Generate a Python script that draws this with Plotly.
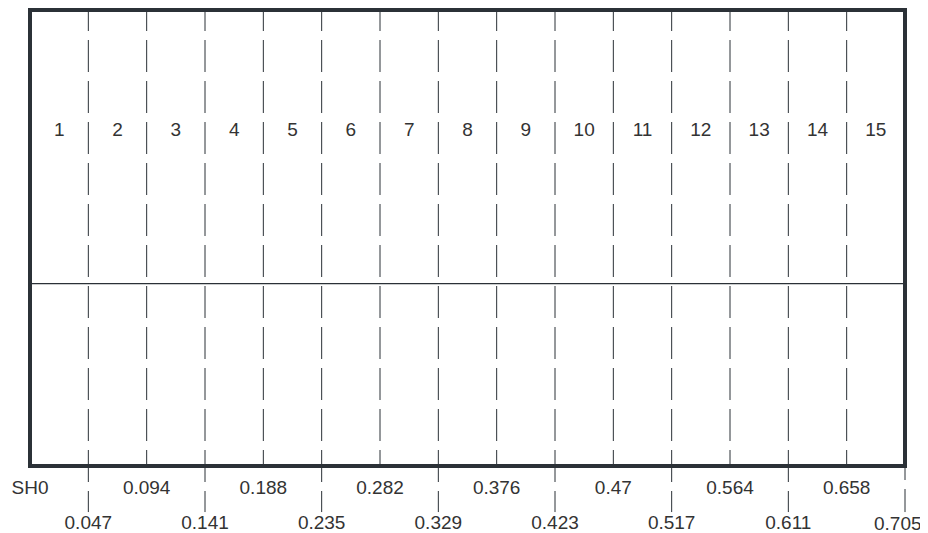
import plotly.graph_objects as go

# ---- data ----
boundaries = [0.0, 0.047, 0.094, 0.141, 0.188, 0.235, 0.282, 0.329, 0.376,
              0.423, 0.47, 0.517, 0.564, 0.611, 0.658, 0.705]
tick_labels = ["SH0", "0.047", "0.094", "0.141", "0.188", "0.235", "0.282", "0.329",
               "0.376", "0.423", "0.47", "0.517", "0.564", "0.611", "0.658", "0.705"]
column_labels = [str(i) for i in range(1, 16)]
divider_level = 0.4

# ---- style ----
# page has an 8px body margin, so the figure is placed at (8, 8)
OFF = 8
W, H = 920, 525
LINE_COLOR = "#2b3137"
TEXT_COLOR = "#333333"
FONT = "Liberation Sans, Arial, sans-serif"
FS = 19

# frame in page pixels
LEFT, RIGHT, TOP, BOTTOM = 30, 905, 10, 466

dash = "21px,9px," + ",".join(["32px,9px"] * 14)

fig = go.Figure()

for i, b in enumerate(boundaries):
    if i == 0:
        continue
    odd = (i % 2 == 1)
    y_bottom = -0.101 if odd else 0.0
    if i == len(boundaries) - 1:
        fig.add_trace(go.Scatter(x=[b, b], y=[0.0, y_bottom], mode="lines",
                                 line=dict(color=LINE_COLOR, width=1, dash="14px,9px,32px,9px"),
                                 hoverinfo="skip", showlegend=False, cliponaxis=False))
        continue
    fig.add_trace(go.Scatter(x=[b, b], y=[1.0, y_bottom], mode="lines",
                             line=dict(color=LINE_COLOR, width=1, dash=dash),
                             hoverinfo="skip", showlegend=False, cliponaxis=False))

centers = [(boundaries[i] + boundaries[i + 1]) / 2 for i in range(len(column_labels))]
fig.add_trace(go.Scatter(x=centers, y=[0.735] * len(centers), mode="text",
                         text=column_labels,
                         textfont=dict(family=FONT, size=FS, color=TEXT_COLOR),
                         hoverinfo="skip", showlegend=False, cliponaxis=False))

ROW1, ROW2 = -0.052, -0.127
ys = [ROW1 if i % 2 == 0 else ROW2 for i in range(len(boundaries))]
fig.add_trace(go.Scatter(x=boundaries[:-1], y=ys[:-1], mode="text", text=tick_labels[:-1],
                         textfont=dict(family=FONT, size=FS, color=TEXT_COLOR),
                         hoverinfo="skip", showlegend=False, cliponaxis=False))
fig.add_annotation(x=boundaries[-1], y=ys[-1], xref="x", yref="y", text=tick_labels[-1],
                   showarrow=False, xanchor="right", yanchor="middle", xshift=18,
                   borderpad=0, font=dict(family=FONT, size=FS, color=TEXT_COLOR))

fig.add_shape(type="line", xref="x", yref="y", x0=boundaries[0], x1=boundaries[-1],
              y0=divider_level, y1=divider_level, line=dict(color=LINE_COLOR, width=1.3))
fig.add_shape(type="rect", xref="x", yref="y", x0=boundaries[0], x1=boundaries[-1],
              y0=0, y1=1, line=dict(color=LINE_COLOR, width=4))

l, r = LEFT - OFF, RIGHT - OFF
t, btm = TOP - OFF, BOTTOM - OFF
px_per_x = (r - l) / boundaries[-1]
x0 = -l / px_per_x
x1 = (W - l) / px_per_x
py = btm - t
y0 = -(H - btm) / py
y1 = btm / py

fig.update_layout(
    width=W, height=H,
    margin=dict(l=0, r=0, t=0, b=0),
    paper_bgcolor="white", plot_bgcolor="white",
    xaxis=dict(range=[x0, x1], visible=False, fixedrange=True),
    yaxis=dict(range=[y0, y1], visible=False, fixedrange=True),
    showlegend=False,
)

fig.write_html("out.html")
